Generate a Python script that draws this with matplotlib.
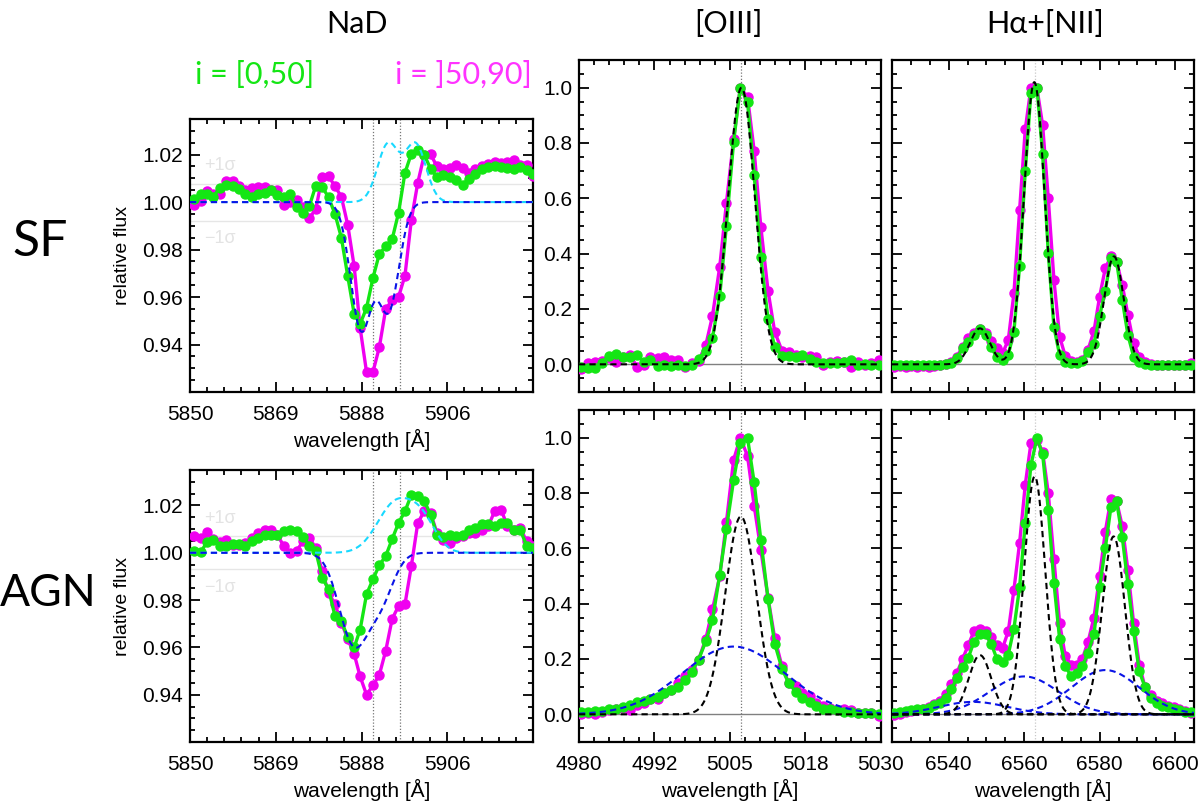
import numpy as np
import matplotlib
matplotlib.use("Agg")
import matplotlib.pyplot as plt
from matplotlib.ticker import FixedLocator, MultipleLocator, FuncFormatter

# ---- spectra ----
nad_wave = [5850.9, 5852.3, 5853.7, 5855.1, 5856.5, 5857.9, 5859.3, 5860.7, 5862.1, 5863.5,
            5864.9, 5866.3, 5867.7, 5869.1, 5870.5, 5871.9, 5873.3, 5874.7, 5876.1, 5877.5,
            5878.9, 5880.3, 5881.7, 5883.1, 5884.5, 5885.9, 5887.2, 5888.6, 5890.0, 5891.4,
            5892.8, 5894.2, 5895.6, 5897.0, 5898.4, 5899.8, 5901.2, 5902.6, 5904.0, 5905.4,
            5906.8, 5908.2, 5909.6, 5911.0, 5912.4, 5913.8, 5915.2, 5916.6, 5918.0, 5919.4,
            5920.8, 5922.2, 5923.6, 5925.0]

nad_sf_low = [1.0013, 1.0036, 1.0032, 1.0022, 1.0060, 1.0074, 1.0067, 1.0057, 1.0034, 1.0022,
              1.0034, 1.0039, 1.0050, 1.0029, 1.0022, 1.0034, 0.9978, 0.9952, 0.9983, 1.0069,
              1.0064, 1.0020, 0.9950, 0.9850, 0.9687, 0.9529, 0.9487, 0.9554, 0.9680, 0.9782,
              0.9813, 0.9843, 0.9955, 1.0123, 1.0204, 1.0218, 1.0200, 1.0141, 1.0106, 1.0112,
              1.0106, 1.0092, 1.0071, 1.0099, 1.0120, 1.0141, 1.0148, 1.0151, 1.0148, 1.0145,
              1.0141, 1.0148, 1.0134, 1.0120]
nad_sf_high = [0.9987, 1.0006, 1.0048, 1.0034, 1.0036, 1.0090, 1.0090, 1.0067, 1.0053, 1.0060,
               1.0064, 1.0064, 1.0050, 1.0050, 0.9987, 1.0001, 1.0008, 0.9980, 0.9934, 0.9969,
               1.0106, 1.0109, 1.0067, 1.0022, 0.9903, 0.9729, 0.9470, 0.9284, 0.9284, 0.9389,
               0.9550, 0.9586, 0.9600, 0.9690, 0.9925, 1.0081, 1.0197, 1.0201, 1.0151, 1.0138,
               1.0145, 1.0155, 1.0145, 1.0123, 1.0141, 1.0151, 1.0162, 1.0169, 1.0165, 1.0169,
               1.0176, 1.0155, 1.0155, 1.0109]
nad_agn_low = [1.0007, 1.0002, 1.0044, 1.0053, 1.0030, 1.0030, 1.0039, 1.0039, 1.0030, 1.0049,
               1.0063, 1.0077, 1.0077, 1.0077, 1.0091, 1.0098, 1.0091, 1.0067, 1.0030, 1.0007,
               0.9895, 0.9846, 0.9733, 0.9712, 0.9642, 0.9600, 0.9675, 0.9824, 0.9888, 0.9948,
               0.9986, 1.0058, 1.0126, 1.0175, 1.0245, 1.0238, 1.0221, 1.0161, 1.0077, 1.0067,
               1.0077, 1.0072, 1.0077, 1.0095, 1.0105, 1.0123, 1.0123, 1.0115, 1.0126, 1.0128,
               1.0098, 1.0098, 1.0030, 1.0021]
nad_agn_high = [1.0070, 1.0063, 1.0087, 1.0058, 1.0044, 1.0053, 1.0035, 1.0035, 1.0042, 1.0063,
                1.0084, 1.0098, 1.0098, 1.0077, 1.0028, 1.0000, 1.0007, 1.0049, 1.0063, 1.0020,
                0.9923, 0.9832, 0.9782, 0.9705, 0.9635, 0.9572, 0.9477, 0.9400, 0.9439, 0.9484,
                0.9586, 0.9720, 0.9775, 0.9782, 0.9944, 1.0126, 1.0175, 1.0168, 1.0084, 1.0056,
                1.0042, 1.0063, 1.0070, 1.0084, 1.0084, 1.0098, 1.0112, 1.0175, 1.0182, 1.0115,
                1.0098, 1.0105, 1.0049, 1.0028]

oiii_wave = [4980.4, 4981.5, 4982.7, 4983.8, 4985.0, 4986.1, 4987.3, 4988.4, 4989.6, 4990.7,
             4991.8, 4993.0, 4994.1, 4995.3, 4996.4, 4997.6, 4998.7, 4999.8, 5001.0, 5002.1,
             5003.3, 5004.4, 5005.6, 5006.7, 5007.9, 5009.0, 5010.1, 5011.3, 5012.4, 5013.6,
             5014.7, 5015.9, 5017.0, 5018.2, 5019.3, 5020.4, 5021.6, 5022.7, 5023.9, 5025.0,
             5026.2, 5027.3, 5028.4, 5029.6]

oiii_sf_low = [-0.008, -0.012, -0.012, 0.006, 0.030, 0.037, 0.028, 0.028, 0.033, 0.010,
               0.016, -0.006, -0.004, -0.006, -0.002, -0.006, -0.002, 0.020, 0.049, 0.096,
               0.247, 0.500, 0.805, 1.000, 0.949, 0.684, 0.387, 0.163, 0.064, 0.030,
               0.030, 0.028, 0.034, 0.018, 0.010, 0.004, 0.006, 0.006, 0.010, 0.016,
               -0.002, 0.001, -0.002, -0.002]
oiii_sf_high = [-0.018, 0.006, 0.010, 0.013, 0.022, 0.010, 0.028, 0.034, -0.008, -0.002,
                0.025, 0.022, 0.025, 0.016, 0.016, -0.008, 0.006, 0.013, 0.070, 0.175,
                0.353, 0.582, 0.814, 1.000, 0.967, 0.772, 0.498, 0.265, 0.118, 0.049,
                0.046, 0.034, 0.028, 0.030, 0.025, -0.002, 0.010, 0.013, 0.010, -0.008,
                0.010, -0.002, 0.006, 0.016]
oiii_agn_low = [0.008, 0.008, 0.012, 0.012, 0.020, 0.020, 0.028, 0.032, 0.044, 0.048,
                0.056, 0.064, 0.076, 0.088, 0.100, 0.124, 0.153, 0.198, 0.264, 0.340,
                0.505, 0.670, 0.847, 0.982, 1.000, 0.838, 0.631, 0.417, 0.256, 0.165,
                0.114, 0.081, 0.060, 0.044, 0.030, 0.020, 0.018, 0.014, 0.010, 0.008,
                0.006, 0.006, 0.006, 0.000]
oiii_agn_high = [0.000, 0.004, 0.000, 0.008, 0.016, 0.018, 0.024, 0.016, 0.032, 0.042,
                 0.054, 0.056, 0.078, 0.088, 0.112, 0.138, 0.162, 0.198, 0.273, 0.379,
                 0.499, 0.694, 0.920, 1.000, 0.934, 0.754, 0.595, 0.421, 0.276, 0.174,
                 0.114, 0.102, 0.078, 0.068, 0.040, 0.030, 0.024, 0.016, 0.018, 0.016,
                 0.006, 0.006, 0.004, -0.006]

ha_wave = [6525.6, 6527.1, 6528.6, 6530.1, 6531.6, 6533.2, 6534.7, 6536.2, 6537.7, 6539.2,
           6540.7, 6542.2, 6543.7, 6545.2, 6546.7, 6548.3, 6549.8, 6551.3, 6552.8, 6554.3,
           6555.8, 6557.3, 6558.8, 6560.3, 6561.8, 6563.4, 6564.9, 6566.4, 6567.9, 6569.4,
           6570.9, 6572.4, 6573.9, 6575.4, 6576.9, 6578.5, 6580.0, 6581.5, 6583.0, 6584.5,
           6586.0, 6587.5, 6589.0, 6590.5, 6592.0, 6593.6, 6595.1, 6596.6, 6598.1, 6599.6,
           6601.1, 6602.6, 6604.1]

ha_sf_low = [-0.003, -0.003, -0.003, -0.002, -0.003, -0.003, -0.002, -0.003, -0.002, 0.000,
             0.004, 0.022, 0.058, 0.082, 0.106, 0.127, 0.106, 0.061, 0.025, 0.015,
             0.034, 0.118, 0.355, 0.699, 0.982, 1.000, 0.760, 0.401, 0.134, 0.034,
             0.010, 0.006, 0.006, 0.013, 0.046, 0.073, 0.175, 0.266, 0.385, 0.371,
             0.233, 0.106, 0.028, 0.010, 0.000, -0.002, -0.002, -0.002, -0.002, -0.002,
             -0.002, -0.002, -0.002]
ha_sf_high = [-0.008, -0.006, -0.008, -0.006, -0.008, -0.006, -0.008, -0.006, -0.004, 0.000,
              0.010, 0.028, 0.064, 0.096, 0.115, 0.127, 0.112, 0.084, 0.058, 0.040,
              0.088, 0.257, 0.558, 0.849, 1.000, 0.998, 0.865, 0.600, 0.305, 0.100,
              0.030, 0.013, 0.010, 0.016, 0.052, 0.120, 0.245, 0.347, 0.390, 0.371,
              0.287, 0.178, 0.076, 0.028, 0.010, 0.000, -0.004, -0.002, -0.004, -0.002,
              -0.004, -0.002, 0.004]
ha_agn_low = [0.006, 0.008, 0.012, 0.016, 0.018, 0.020, 0.024, 0.032, 0.042, 0.060,
              0.090, 0.130, 0.170, 0.204, 0.262, 0.290, 0.290, 0.255, 0.200, 0.190,
              0.216, 0.310, 0.460, 0.690, 0.900, 1.000, 0.940, 0.740, 0.475, 0.272,
              0.174, 0.140, 0.150, 0.174, 0.220, 0.290, 0.460, 0.600, 0.750, 0.770,
              0.640, 0.470, 0.300, 0.155, 0.100, 0.060, 0.040, 0.030, 0.025, 0.020,
              0.015, 0.010, 0.008]
ha_agn_high = [-0.004, 0.000, 0.008, 0.012, 0.016, 0.020, 0.026, 0.036, 0.050, 0.075,
               0.110, 0.150, 0.200, 0.250, 0.300, 0.310, 0.300, 0.280, 0.250, 0.240,
               0.300, 0.450, 0.620, 0.830, 0.980, 0.990, 0.950, 0.800, 0.560, 0.330,
               0.210, 0.180, 0.180, 0.200, 0.260, 0.350, 0.500, 0.660, 0.780, 0.770,
               0.680, 0.520, 0.330, 0.180, 0.100, 0.070, 0.050, 0.040, 0.030, 0.025,
               0.018, 0.012, 0.006]

# ---- fitted model components: (amplitude, centre, sigma) ----
nad_sf_abs = [(0.053, 5887.4, 2.3), (0.045, 5893.4, 2.3)]
nad_sf_emi = [(0.0243, 5893.3, 2.3), (0.0243, 5899.3, 2.3)]
nad_agn_abs = [(0.038, 5885.8, 3.2), (0.018, 5891.8, 2.8)]
nad_agn_emi = [(0.021, 5895.0, 4.0), (0.011, 5900.97, 3.0)]

oiii_sf_narrow = [(1.0, 5006.9, 2.2)]
oiii_agn_narrow = [(0.715, 5006.8, 2.6)]
oiii_agn_broad = [(0.245, 5005.6, 8.5)]

ha_sf_narrow = [(0.13, 6548.3, 2.6), (1.02, 6562.7, 2.7), (0.39, 6583.8, 2.6)]
ha_agn_narrow = [(0.214, 6548.3, 3.0), (0.86, 6562.8, 2.8), (0.643, 6583.7, 3.0)]
ha_agn_broad = [(0.045, 6546.5, 9.0), (0.137, 6560.0, 9.0), (0.16, 6581.5, 9.0)]

sigma_band_sf = (1.0078, 0.9920)
sigma_band_agn = (1.0072, 0.9930)

GREEN = "#14e614"
MAGENTA = "#f000f0"
BLUE = "#0a14e6"
CYAN = "#19d9ff"
TICKFONT = "Liberation Sans"


def gauss(x, comp):
    amp, cen, sig = comp
    return amp * np.exp(-0.5 * ((x - cen) / sig) ** 2)


def style_axes(ax, xmajor, xminor, yminor):
    ax.xaxis.set_major_locator(FixedLocator(xmajor))
    ax.xaxis.set_minor_locator(MultipleLocator(xminor))
    ax.yaxis.set_minor_locator(MultipleLocator(yminor))
    ax.tick_params(which="both", direction="in", top=True, right=True,
                   width=1.3, labelsize=15)
    ax.tick_params(axis="x", pad=9)
    ax.tick_params(axis="y", pad=5)
    ax.tick_params(which="major", length=7)
    ax.tick_params(which="minor", length=3.5)
    for sp in ax.spines.values():
        sp.set_linewidth(1.6)


def plot_data(ax, wave, high, low):
    ax.plot(wave, high, "-o", color=MAGENTA, lw=2.4, ms=6.5, zorder=3)
    ax.plot(wave, low, "-o", color=GREEN, lw=2.4, ms=6.5, zorder=4)


def set_tick_font(ax):
    for lab in ax.get_xticklabels() + ax.get_yticklabels():
        lab.set_fontfamily(TICKFONT)


def draw_nad(ax, low, high, absorb, emit, band):
    x = np.linspace(5850, 5925, 600)
    for yb in band:
        ax.axhline(yb, color="#e6e6e6", lw=1.0, zorder=1)
    ax.text(5853, band[0] + 0.0075, "+1σ", color="#e3e3e3", fontsize=13,
            family=TICKFONT, va="center")
    ax.text(5853, band[1] - 0.0075, "\u22121σ", color="#e3e3e3", fontsize=13,
            family=TICKFONT, va="center")
    for wl in (5889.95, 5895.92):
        ax.axvline(wl, color="#777777", lw=0.9, ls=(0, (1, 1.5)), zorder=2)
    plot_data(ax, nad_wave, high, low)
    emi = 1 + sum(gauss(x, c) for c in emit)
    ab = 1 - sum(gauss(x, c) for c in absorb)
    ax.plot(x, emi, color=CYAN, lw=1.5, ls=(0, (3, 2)), zorder=5)
    ax.plot(x, ab, color=BLUE, lw=1.5, ls=(0, (3, 2)), zorder=5)
    ax.set_xlim(5850, 5925)
    ax.set_ylim(0.92, 1.035)
    style_axes(ax, [5850, 5868.75, 5887.5, 5906.25, 5925], 3.75, 0.005)
    ax.xaxis.set_major_formatter(FuncFormatter(lambda v, p: "" if v > 5920 else f"{v:.0f}"))
    ax.yaxis.set_major_locator(FixedLocator([0.94, 0.96, 0.98, 1.00, 1.02]))
    ax.yaxis.set_major_formatter(FuncFormatter(lambda v, p: f"{v:.2f}"))
    ax.set_ylabel("relative flux", fontsize=14, family=TICKFONT, labelpad=8)
    ax.set_xlabel("wavelength [Å]", fontsize=15, family=TICKFONT, labelpad=4)
    set_tick_font(ax)


def draw_line_panel(ax, wave, low, high, xlim, narrow, broad, line_wl, line_col,
                    xmajor, xminor, sum_narrow, show_x, show_y):
    x = np.linspace(xlim[0], xlim[1], 800)
    ax.axhline(0, color="#808080", lw=1.0, zorder=1)
    ax.axvline(line_wl, color=line_col, lw=0.9, ls=(0, (1, 1.5)), zorder=2)
    plot_data(ax, wave, high, low)
    for c in broad:
        ax.plot(x, gauss(x, c), color=BLUE, lw=1.5, ls=(0, (3, 2)), zorder=5)
    if sum_narrow:
        ax.plot(x, sum(gauss(x, c) for c in narrow), color="black", lw=1.5,
                ls=(0, (3, 2)), zorder=5)
    else:
        for c in narrow:
            ax.plot(x, gauss(x, c), color="black", lw=1.5, ls=(0, (3, 2)), zorder=5)
    ax.set_xlim(*xlim)
    ax.set_ylim(-0.1, 1.1)
    style_axes(ax, xmajor, xminor, 0.05)
    ax.yaxis.set_major_locator(FixedLocator([0.0, 0.2, 0.4, 0.6, 0.8, 1.0]))
    ax.yaxis.set_major_formatter(FuncFormatter(lambda v, p: f"{v:.1f}"))
    ax.xaxis.set_major_formatter(FuncFormatter(lambda v, p: f"{v:.0f}"))
    if not show_x:
        ax.tick_params(labelbottom=False)
    else:
        ax.set_xlabel("wavelength [Å]", fontsize=15, family=TICKFONT, labelpad=4)
    if not show_y:
        ax.tick_params(labelleft=False)
    set_tick_font(ax)


def make_figure(filename="out.png"):
    W, H = 1200, 801
    fig = plt.figure(figsize=(W / 100, H / 100), dpi=100)

    def box(x0, y0, x1, y1):
        return [x0 / W, 1 - y1 / H, (x1 - x0) / W, (y1 - y0) / H]

    ax_nad_sf = fig.add_axes(box(190, 119, 533, 392))
    ax_oiii_sf = fig.add_axes(box(579, 60, 881, 392))
    ax_ha_sf = fig.add_axes(box(892, 60, 1194, 392))
    ax_nad_agn = fig.add_axes(box(190, 470, 533, 742))
    ax_oiii_agn = fig.add_axes(box(579, 410, 881, 742))
    ax_ha_agn = fig.add_axes(box(892, 410, 1194, 742))

    draw_nad(ax_nad_sf, nad_sf_low, nad_sf_high, nad_sf_abs, nad_sf_emi, sigma_band_sf)
    draw_nad(ax_nad_agn, nad_agn_low, nad_agn_high, nad_agn_abs, nad_agn_emi, sigma_band_agn)

    oiii_major = [4980, 4992.5, 5005, 5017.5, 5030]
    ha_major = [6540, 6560, 6580, 6600]
    draw_line_panel(ax_oiii_sf, oiii_wave, oiii_sf_low, oiii_sf_high, (4980, 5030),
                    oiii_sf_narrow, [], 5006.84, "#777777", oiii_major, 2.5, True, False, True)
    draw_line_panel(ax_oiii_agn, oiii_wave, oiii_agn_low, oiii_agn_high, (4980, 5030),
                    oiii_agn_narrow, oiii_agn_broad, 5006.84, "#777777", oiii_major, 2.5,
                    False, True, True)
    draw_line_panel(ax_ha_sf, ha_wave, ha_sf_low, ha_sf_high, (6525, 6605),
                    ha_sf_narrow, [], 6562.8, "#c8c8c8", ha_major, 5, True, False, False)
    draw_line_panel(ax_ha_agn, ha_wave, ha_agn_low, ha_agn_high, (6525, 6605),
                    ha_agn_narrow, ha_agn_broad, 6562.8, "#c8c8c8", ha_major, 5,
                    False, True, False)

    head = ["Lato", "DejaVu Sans"]
    fig.text(357 / W, 1 - 24 / H, "NaD", fontsize=22, family=head, ha="center", va="center")
    fig.text(728 / W, 1 - 24 / H, "[OIII]", fontsize=22, family=head, ha="center", va="center")
    fig.text(1045 / W, 1 - 24 / H, "Hα+[NII]", fontsize=22, family=head, ha="center", va="center")
    fig.text(40 / W, 1 - 242 / H, "SF", fontsize=36, family=head, ha="center", va="center")
    fig.text(48 / W, 1 - 594 / H, "AGN", fontsize=32, family=head, ha="center", va="center")
    fig.text(255 / W, 1 - 75 / H, "i = [0,50]", fontsize=22, family=head, color=GREEN,
             ha="center", va="center")
    fig.text(463 / W, 1 - 75 / H, "i = ]50,90]", fontsize=22, family=head, color="#ff33ff",
             ha="center", va="center")

    fig.savefig(filename, dpi=100)
    plt.close(fig)


if __name__ == "__main__":
    make_figure("out.png")
